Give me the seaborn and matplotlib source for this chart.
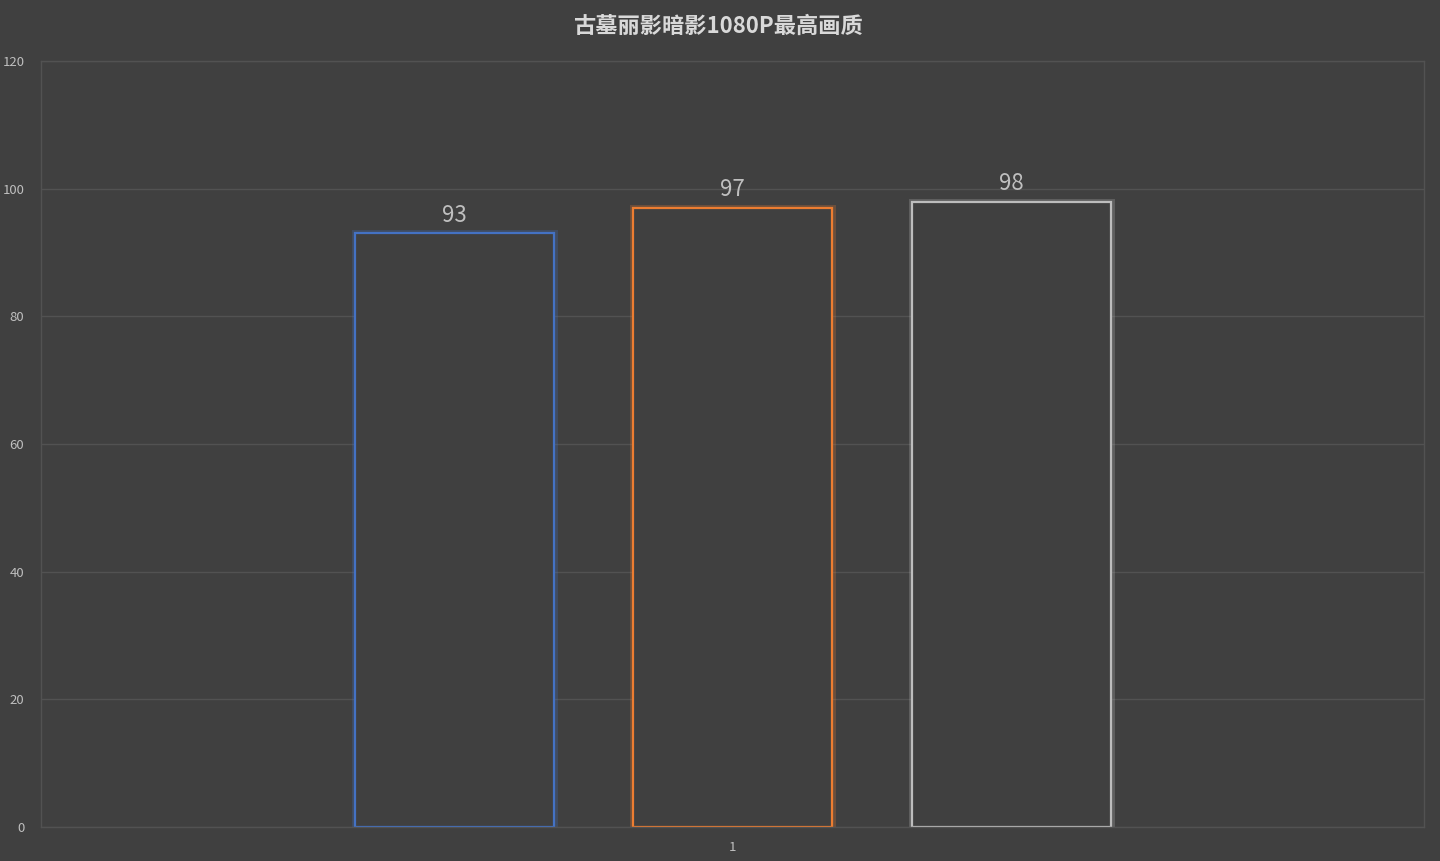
"""古墓丽影暗影 1080P 最高画质 柱状图."""

import matplotlib.pyplot as plt
import matplotlib.patheffects as pe
import pandas as pd
import seaborn as sns

categories = ["1", "1", "1"]
series = ["系列1", "系列2", "系列3"]
values = [93, 97, 98]
edge_colors = ["#4472C4", "#ED7D31", "#BDBDBD"]

BG = "#404040"
GRID = "#525252"
TEXT = "#BFBFBF"

sns.set_theme(style="darkgrid")
plt.rcParams["font.family"] = ["Noto Sans CJK SC", "DejaVu Sans"]

df = pd.DataFrame({"cat": categories, "series": series, "value": values})

fig = plt.figure(figsize=(14.4, 8.61), dpi=100, facecolor=BG)
ax = fig.add_axes([0.0285, 0.0395, 0.9605, 0.8895])
ax.set_facecolor(BG)

sns.barplot(
    data=df,
    x="cat",
    y="value",
    hue="series",
    palette=[BG] * 3,
    width=0.604,
    gap=0.285,
    legend=False,
    ax=ax,
)

for patch, color in zip(ax.patches, edge_colors):
    patch.set_facecolor(BG)
    patch.set_edgecolor(color)
    patch.set_linewidth(1.6)
    patch.set_path_effects([
        pe.Stroke(linewidth=5, foreground=color, alpha=0.25),
        pe.Normal(),
    ])

for container in ax.containers:
    ax.bar_label(container, fmt="%d", padding=5, fontsize=16, color=TEXT)

ax.set_ylim(0, 120)
ax.set_yticks(range(0, 121, 20))
ax.set_xlim(-0.5, 0.5)
ax.grid(axis="y", color=GRID, linewidth=1)
ax.grid(axis="x", visible=False)
ax.tick_params(axis="both", length=0, colors=TEXT, labelsize=9.5)
ax.tick_params(axis="y", pad=12)
ax.tick_params(axis="x", pad=10)
ax.set_xlabel("")
ax.set_ylabel("")
for spine in ax.spines.values():
    spine.set_visible(True)
    spine.set_color(GRID)
    spine.set_linewidth(1)

fig.text(0.4985, 0.969, "古墓丽影暗影1080P最高画质", ha="center", va="center",
         fontsize=16, fontweight="bold", color="#D9D9D9")

fig.savefig("out.png", dpi=100, facecolor=BG)
plt.close(fig)
